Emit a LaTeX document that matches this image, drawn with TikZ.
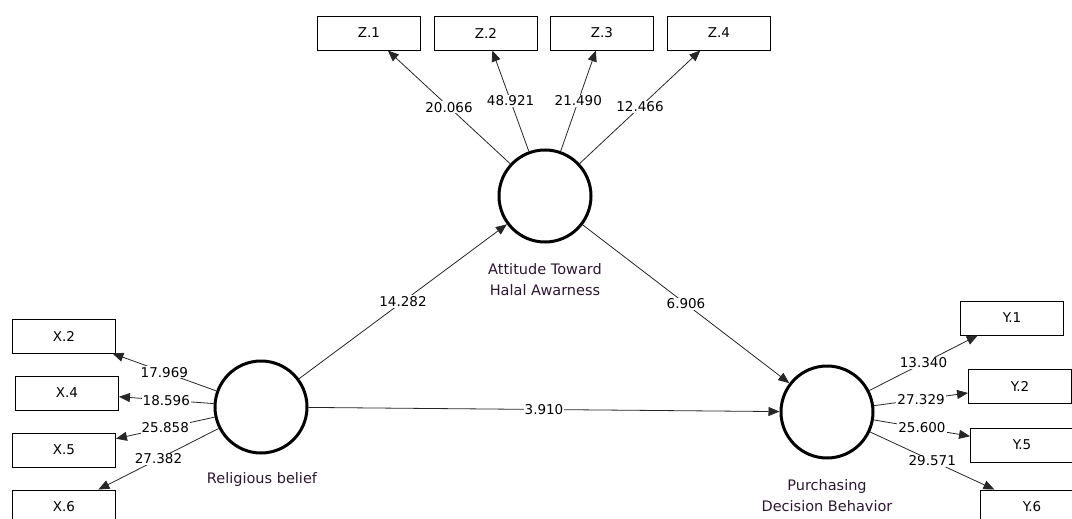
\documentclass[tikz,border=0pt]{standalone}
\usepackage{fontspec}
\setmainfont{DejaVu Sans}
\usepackage{xcolor}
\usepackage{tikz}
\usetikzlibrary{calc, arrows.meta, positioning}

\definecolor{latentcol}{HTML}{2E1632}
\definecolor{pathcol}{HTML}{262626}

\begin{document}
\begin{tikzpicture}[x=1pt, y=-1pt,
    latent/.style={draw, circle, line width=3pt, minimum size=92pt, inner sep=0pt},
    indic/.style={draw, line width=0.9pt, minimum width=103pt, minimum height=34pt, inner sep=0pt,
        font=\fontsize{13.5}{15}\selectfont},
    lvlabel/.style={align=center, text=latentcol, font=\fontsize{14.5}{21}\selectfont},
    tval/.style={fill=white, inner sep=1pt, font=\fontsize{13.5}{15}\selectfont},
    path/.style={draw=pathcol, line width=0.8pt, -{Triangle[length=11pt, width=9pt]}}]

    \useasboundingbox (0,0) rectangle (1072,519);

    % Các biến tiềm ẩn
    \node[latent] (att) at (545,196) {};
    \node[latent] (rel) at (261,407) {};
    \node[latent] (pur) at (827,412) {};

    % Nhãn các biến tiềm ẩn
    \node[lvlabel] (attlbl) at (545,280) {Attitude Toward\\Halal Awarness};
    \node[lvlabel] (rellbl) at (262,479) {Religious belief};
    \node[lvlabel] (purlbl) at (827,496) {Purchasing\\Decision Behavior};

    % Các biến quan sát Z
    \node[indic] (z1) at (369,33) {Z.1};
    \node[indic] (z2) at (486,33) {Z.2};
    \node[indic] (z3) at (602,33) {Z.3};
    \node[indic] (z4) at (719,33) {Z.4};

    % Các biến quan sát X
    \node[indic] (x2) at (64,336) {X.2};
    \node[indic] (x4) at (67,393) {X.4};
    \node[indic] (x5) at (64,450) {X.5};
    \node[indic] (x6) at (64,507) {X.6};

    % Các biến quan sát Y
    \node[indic] (y1) at (1012,318) {Y.1};
    \node[indic] (y2) at (1020,386) {Y.2};
    \node[indic] (y5) at (1022,445) {Y.5};
    \node[indic] (y6) at (1032,507) {Y.6};

    % Mô hình đo lường
    \draw[path] (att) -- (z1) node[tval, midway] {20.066};
    \draw[path] (att) -- (z2) node[tval, midway] {48.921};
    \draw[path] (att) -- (z3) node[tval, midway] {21.490};
    \draw[path] (att) -- (z4) node[tval, midway] {12.466};

    \draw[path] (rel) -- (x2) node[tval, midway] {17.969};
    \draw[path] (rel) -- (x4) node[tval, midway] {18.596};
    \draw[path] (rel) -- (x5) node[tval, midway] {25.858};
    \draw[path] (rel) -- (x6) node[tval, midway] {27.382};

    \draw[path] (pur) -- (y1) node[tval, midway] {13.340};
    \draw[path] (pur) -- (y2) node[tval, midway] {27.329};
    \draw[path] (pur) -- (y5) node[tval, midway] {25.600};
    \draw[path] (pur) -- (y6) node[tval, midway] {29.571};

    % Mô hình cấu trúc
    \draw[path] (rel) -- (att) node[tval, midway] {14.282};
    \draw[path] (att) -- (pur) node[tval, midway] {6.906};
    \draw[path] (rel) -- (pur) node[tval, midway] {3.910};

\end{tikzpicture}
\end{document}
